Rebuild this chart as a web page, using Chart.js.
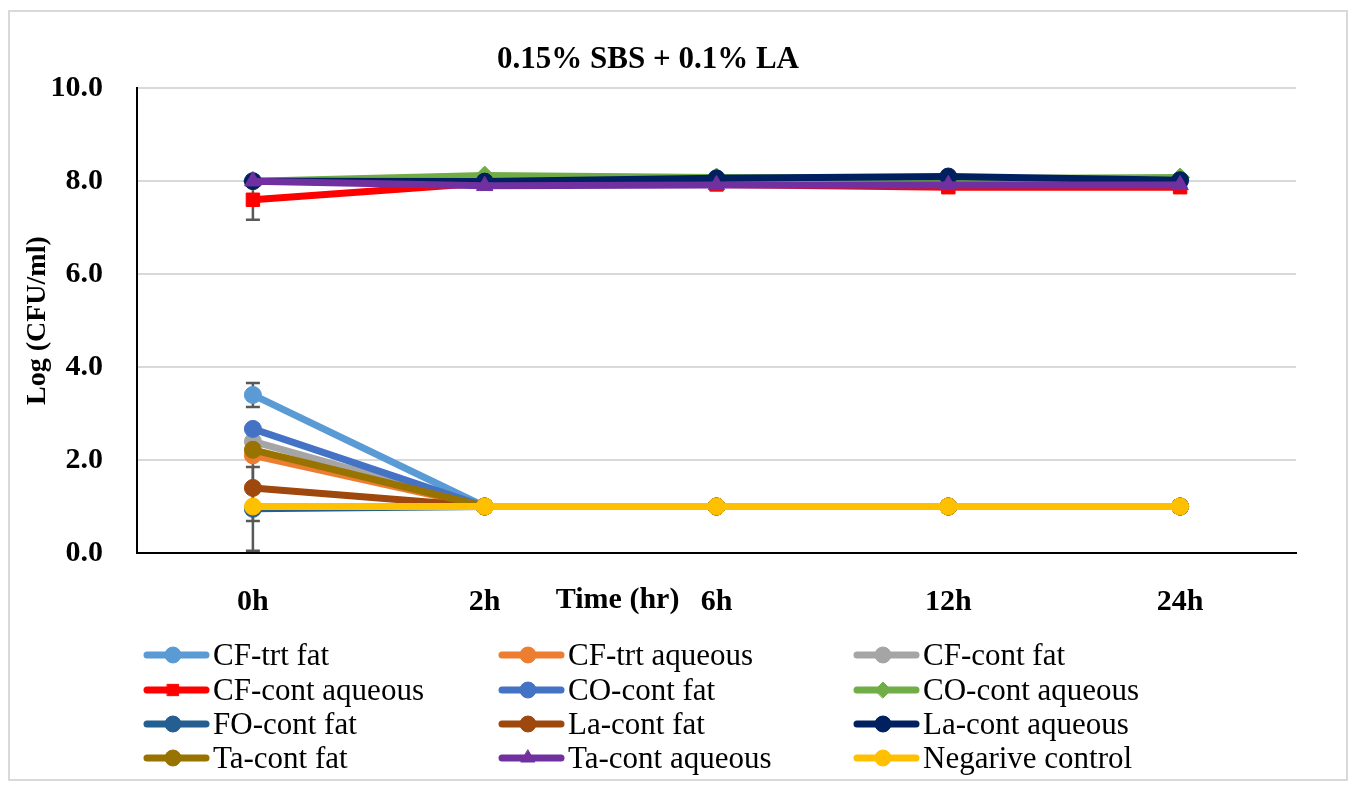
<!DOCTYPE html>
<html>
<head>
<meta charset="utf-8">
<script src="https://cdn.jsdelivr.net/npm/chart.js@4.4.1/dist/chart.umd.min.js"></script>
<style>
  html, body { margin: 0; padding: 0; background: #fff; }
  body { width: 1358px; height: 791px; position: relative; overflow: hidden; }
  #frame { position: absolute; left: 8px; top: 10px; width: 1340px; height: 771px; border: 2px solid #d9d9d9; box-sizing: border-box; }
  #wrap { position: absolute; left: 0; top: 0; width: 1358px; height: 620px; }
  #legend { position: absolute; left: 0; top: 0; width: 1358px; height: 791px; pointer-events: none; }
  .item { position: absolute; height: 34px; display: flex; align-items: center;
          font-family: "Liberation Serif", serif; font-size: 31px; color: #000; white-space: nowrap; }
  .item canvas { width: 70px; height: 34px; }
</style>
</head>
<body>
<div id="frame"></div>
<div id="wrap"><canvas id="chart"></canvas></div>
<div id="legend"></div>
<script>
// categories
const times = ['0h', '2h', '6h', '12h', '24h'];

// series values, log CFU/ml
const cfTrtFat      = [3.40, 1.00, 1.00, 1.00, 1.00];
const cfTrtAqueous  = [2.10, 1.00, 1.00, 1.00, 1.00];
const cfContFat     = [2.40, 1.00, 1.00, 1.00, 1.00];
const cfContAqueous = [7.60, 7.96, 7.93, 7.87, 7.87];
const coContFat     = [2.67, 1.00, 1.00, 1.00, 1.00];
const coContAqueous = [8.00, 8.12, 8.08, 8.05, 8.08];
const foContFat     = [0.95, 1.00, 1.00, 1.00, 1.00];
const laContFat     = [1.40, 1.00, 1.00, 1.00, 1.00];
const laContAqueous = [8.00, 7.99, 8.06, 8.10, 8.02];
const taContFat     = [2.22, 1.00, 1.00, 1.00, 1.00];
const taContAqueous = [8.00, 7.90, 7.92, 7.92, 7.92];
const negControl    = [1.00, 1.00, 1.00, 1.00, 1.00];

// error bars (only visible at 0h)
const cfTrtFatErr      = [0.26, 0, 0, 0, 0];
const cfContAqueousErr = [0.43, 0, 0, 0, 0];
const foContFatErr     = [0.90, 0, 0, 0, 0];
const laContFatErr     = [0.71, 0, 0, 0, 0];

// y ticks
const yTicks = [0, 2, 4, 6, 8, 10];

const series = [
  { label: 'CF-trt fat',       data: cfTrtFat,      color: '#5b9bd5', style: 'circle',  err: cfTrtFatErr },
  { label: 'CF-trt aqueous',   data: cfTrtAqueous,  color: '#ed7d31', style: 'circle' },
  { label: 'CF-cont fat',      data: cfContFat,     color: '#a5a5a5', style: 'circle' },
  { label: 'CF-cont aqueous',  data: cfContAqueous, color: '#ff0000', style: 'rect',    err: cfContAqueousErr },
  { label: 'CO-cont fat',      data: coContFat,     color: '#4472c4', style: 'circle' },
  { label: 'CO-cont aqueous',  data: coContAqueous, color: '#70ad47', style: 'rectRot' },
  { label: 'FO-cont fat',      data: foContFat,     color: '#255e91', style: 'circle',  err: foContFatErr },
  { label: 'La-cont fat',      data: laContFat,     color: '#9e480e', style: 'circle',  err: laContFatErr },
  { label: 'La-cont aqueous',  data: laContAqueous, color: '#002060', style: 'circle' },
  { label: 'Ta-cont fat',      data: taContFat,     color: '#997300', style: 'circle' },
  { label: 'Ta-cont aqueous',  data: taContAqueous, color: '#7030a0', style: 'triangle' },
  { label: 'Negarive control', data: negControl,    color: '#ffc000', style: 'circle' }
];

const serif = '"Liberation Serif", serif';

// error bars behind the lines
const errorBars = {
  id: 'errorBars',
  beforeDatasetsDraw(chart) {
    const { ctx, scales: { x, y } } = chart;
    ctx.save();
    ctx.strokeStyle = '#595959';
    ctx.lineWidth = 2.5;
    chart.data.datasets.forEach(ds => {
      if (!ds.err) return;
      ds.err.forEach((e, i) => {
        if (!e) return;
        const px = x.getPixelForValue(i);
        const top = y.getPixelForValue(ds.data[i] + e);
        const bot = y.getPixelForValue(Math.max(ds.data[i] - e, 0));
        ctx.beginPath();
        ctx.moveTo(px, top); ctx.lineTo(px, bot);
        ctx.moveTo(px - 7, top); ctx.lineTo(px + 7, top);
        ctx.moveTo(px - 7, bot); ctx.lineTo(px + 7, bot);
        ctx.stroke();
      });
    });
    ctx.restore();
  }
};

// x axis title sits inside the tick label row
const timeTitle = {
  id: 'timeTitle',
  afterDraw(chart) {
    const { ctx, scales: { x } } = chart;
    const mid = (x.getPixelForValue(1) + x.getPixelForValue(2)) / 2 + 17;
    ctx.save();
    ctx.font = 'bold 30px ' + serif;
    ctx.fillStyle = '#000';
    ctx.textAlign = 'center';
    ctx.textBaseline = 'middle';
    ctx.fillText('Time (hr)', mid, 600);
    ctx.restore();
  }
};

const chart = new Chart(document.getElementById('chart'), {
  type: 'line',
  data: {
    labels: times,
    datasets: series.map((s, i) => ({
      label: s.label,
      data: s.data,
      err: s.err,
      order: series.length - i,   // later series drawn on top
      borderColor: s.color,
      backgroundColor: s.color,
      pointBackgroundColor: s.color,
      pointBorderColor: s.color,
      pointStyle: s.style,
      pointRadius: s.style === 'circle' ? 8.5 : 9.5,
      pointBorderWidth: 1,
      borderWidth: 7,
      tension: 0
    }))
  },
  options: {
    responsive: true,
    maintainAspectRatio: false,
    animation: false,
    layout: { padding: { left: 0, right: 62, top: 0, bottom: 0 } },
    plugins: {
      legend: { display: false },
      tooltip: { enabled: false },
      title: {
        display: true,
        text: '0.15% SBS + 0.1% LA',
        color: '#000',
        font: { family: serif, size: 31, weight: 'bold' },
        padding: { top: 41, bottom: 10 }
      }
    },
    scales: {
      x: {
        type: 'category',
        offset: true,
        grid: { display: false, drawTicks: false },
        border: { display: true, color: '#000', width: 2 },
        ticks: { color: '#000', padding: 31, font: { family: serif, size: 30, weight: 'bold' } },
        afterFit(s) { s.height = 67; }
      },
      y: {
        min: 0,
        max: 10,
        afterBuildTicks(s) { s.ticks = yTicks.map(v => ({ value: v })); },
        grid: { color: '#d9d9d9', lineWidth: 2, drawTicks: false },
        border: { display: true, color: '#000', width: 2 },
        ticks: {
          color: '#000', padding: 34,
          font: { family: serif, size: 30, weight: 'bold' },
          callback: v => Number(v).toFixed(1)
        },
        title: {
          display: true,
          text: 'Log (CFU/ml)',
          color: '#000',
          font: { family: serif, size: 28, weight: 'bold' },
          padding: { top: 21, bottom: 0 }
        },
        afterFit(s) { s.width = 137; }
      }
    }
  },
  plugins: [errorBars, timeTitle]
});

// legend, 3 columns x 4 rows
const legend = document.getElementById('legend');
const colX = [143, 498, 853];
const rowY = [655, 690, 724, 758];
series.forEach((s, i) => {
  const item = document.createElement('div');
  item.className = 'item';
  item.style.left = colX[i % 3] + 'px';
  item.style.top = (rowY[Math.floor(i / 3)] - 17) + 'px';
  const c = document.createElement('canvas');
  c.width = 70; c.height = 34;
  const g = c.getContext('2d');
  g.strokeStyle = s.color;
  g.lineWidth = 7;
  g.lineCap = 'round';
  g.beginPath(); g.moveTo(4, 17); g.lineTo(63, 17); g.stroke();
  g.fillStyle = s.color;
  g.lineWidth = 1;
  Chart.helpers.drawPoint(g, { pointStyle: s.style, radius: 8, rotation: 0, borderWidth: 1 }, 30, 17);
  item.appendChild(c);
  const t = document.createElement('span');
  t.textContent = s.label;
  item.appendChild(t);
  legend.appendChild(item);
});
</script>
</body>
</html>
